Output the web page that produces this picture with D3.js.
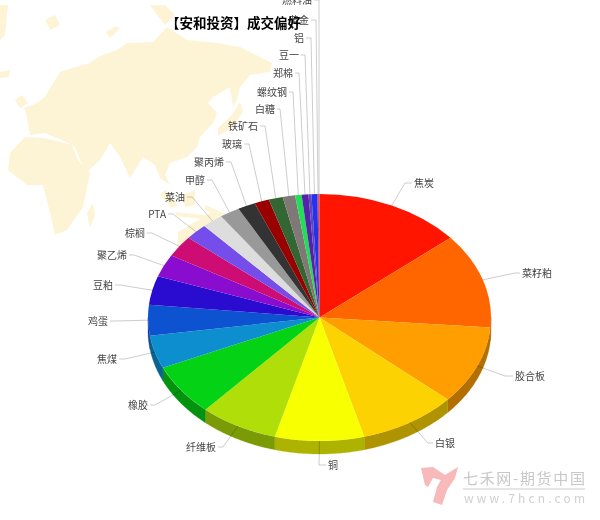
<!DOCTYPE html>
<html><head><meta charset="utf-8">
<script src="https://cdn.jsdelivr.net/npm/d3@7/dist/d3.min.js"></script>
<style>html,body{margin:0;padding:0;background:#fff}svg{display:block;filter:blur(0.3px)}
text{font-family:"Noto Sans CJK SC","Noto Sans",sans-serif}</style>
</head><body><div id="c"></div>
<script>
const titleText = "【安和投资】成交偏好";
const categories = ["焦炭","菜籽粕","胶合板","白银","铜","纤维板","橡胶","焦煤","鸡蛋","豆粕","聚乙烯","棕榈","PTA","菜油","甲醇","聚丙烯","玻璃","铁矿石","白糖","螺纹钢","郑棉","豆一","铝","黄金","燃料油"];
const shares = [49.8,44.8,36.9,33.3,30.2,26.6,24.2,15.6,14.4,13.6,10.6,10,7.6,7.2,6.8,6,5,4.8,4.2,2.2,2.3,1,2,0.4,0.3];
const colors = ["#ff1500","#ff6600","#ff9e01","#fcd202","#f8ff01","#b0de09","#04d215","#0d8ecf","#0d52d1","#2a0cd0","#8a0ccf","#cd0d74","#754deb","#dddddd","#999999","#333333","#990000","#336633","#807777","#22dd55","#5522aa","#6644bb","#2233ee","#aa2288","#dd3333"];
// label layout: anchor x, y, side (1 = text to the right of the connector), elbow distance
const labelX = [414,522,515,435,328,216,148,117,108,113,127,145,166,185,205,224,242,258,275,287,293,299,304,309,312];
const labelY = [183,273,376,443,465,447,405,359,321,285,255,233,214,197,180,162,144,126,109,92,73,55,38,20,0];
const labelSide = [1,1,1,1,1,-1,-1,-1,-1,-1,-1,-1,-1,-1,-1,-1,-1,-1,-1,-1,-1,-1,-1,-1,-1];
const labelElbow = [9,7,10,7,9,7,7,8,7,7,7,7,7,7,7,7,7,7,5,6,6,6,7,7,7];
// background map decoration (outline points)
const landOutlines = [
 [[27,117],[24,108],[35,104],[45,97],[52,85],[60,72],[72,68],[90,63],[100,56],[117,50],[127,43],[153,42],[167,27],[187,40],[217,43],[240,47],[272,63],[270,72],[250,75],[240,87],[237,100],[233,107],[230,87],[213,97],[208,103],[217,113],[213,123],[200,137],[197,147],[187,157],[170,163],[165,175],[170,185],[160,178],[155,165],[143,157],[130,178],[120,157],[110,143],[105,152],[100,160],[87,172],[80,160],[75,147],[62,140],[45,133],[30,135]],
 [[45,138],[25,137],[10,153],[8,170],[27,185],[43,185],[50,213],[55,235],[67,230],[83,207],[90,173],[78,160],[72,145]],
 [[165,190],[178,205],[172,208],[160,195]],
 [[182,195],[195,190],[195,205],[185,207]],
 [[175,212],[205,215],[204,219],[176,216]],
 [[205,205],[228,215],[222,218],[205,210]],
 [[178,232],[195,222],[212,212],[222,220],[235,240],[200,262],[178,250]],
 [[87,213],[93,203],[95,215],[90,228]],
 [[232,115],[240,102],[243,112],[232,128],[218,136],[218,128]],
 [[106,32],[116,26],[120,28],[110,38]],
 [[150,5],[165,5],[175,15],[165,25],[157,15]],
 [[15,100],[22,95],[28,103],[20,108]],
 [[0,72],[10,70],[9,77],[0,78]],
 [[45,20],[55,15],[60,25],[50,30]],
 [[0,5],[8,5],[5,35],[0,40]],
 [[62,110],[70,108],[72,118],[64,120]]
];
const logoOutline = [[421,468],[433,467],[445,475],[458,467],[455,478],[447,490],[442,505],[433,502],[437,487],[441,480],[433,478],[428,487],[425,485]];

const W = 600, H = 520, cx = 319.5, cy = 317.5, rx = 171.5, ry = 123.5, depth = 13;
const svg = d3.select("#c").append("svg").attr("width", W).attr("height", H);

const outline = d3.line().curve(d3.curveLinearClosed);
svg.append("g").selectAll("path").data(landOutlines).join("path")
  .attr("d", outline).attr("fill", "#fdf3d5");

svg.append("path").attr("d", d3.line().curve(d3.curveLinearClosed)(logoOutline)).attr("fill", "#f7b9b9");
svg.append("text").attr("x", 463).attr("y", 484).attr("font-size", 15).attr("textLength", 122).attr("fill", "#c8c8c8").text("七禾网-期货中国");
svg.append("line").attr("x1", 463).attr("x2", 585).attr("y1", 489).attr("y2", 489).attr("stroke", "#ccc");
svg.append("text").attr("x", 464).attr("y", 503).attr("font-size", 12).attr("textLength", 121).attr("fill", "#d0d0d0").text("www.7hcn.com");

const pieData = d3.pie().sort(null).value(d => d)(shares);
const sx = d3.scaleLinear().domain([-1, 1]).range([cx - rx, cx + rx]);
const sy = d3.scaleLinear().domain([-1, 1]).range([cy - ry, cy + ry]);
const px = a => sx(Math.sin(a)), py = a => sy(-Math.cos(a));

// side wall
const wall = d3.area().x(a => px(a)).y0(a => py(a)).y1(a => py(a) + depth);
svg.append("g").selectAll("path")
  .data(pieData.filter(d => d.endAngle > Math.PI / 2 && d.startAngle < 3 * Math.PI / 2))
  .join("path")
  .attr("d", d => {
    const a0 = Math.max(d.startAngle, Math.PI / 2), a1 = Math.min(d.endAngle, 3 * Math.PI / 2);
    return wall(d3.range(0, 41).map(i => a0 + (a1 - a0) * i / 40));
  })
  .attr("fill", d => d3.color(colors[d.index]).darker(1.0))
  .attr("stroke", d => d3.color(colors[d.index]).darker(1.0)).attr("stroke-width", 0.3);

// top
const arc = d3.arc().innerRadius(0).outerRadius(rx);
svg.append("g").attr("transform", `translate(${cx},${cy}) scale(1,${ry / rx})`)
  .selectAll("path").data(pieData).join("path")
  .attr("d", arc).attr("fill", (d, i) => colors[i]);

// connectors
const conn = d3.line();
svg.append("g").selectAll("path").data(pieData).join("path")
  .attr("d", d => {
    const i = d.index, m = (d.startAngle + d.endAngle) / 2, s = labelSide[i];
    return conn([[px(m), py(m)], [labelX[i] - s * labelElbow[i], labelY[i]], [labelX[i] - s * 2, labelY[i]]]);
  })
  .attr("fill", "none").attr("stroke", "#000").attr("stroke-opacity", 0.2).attr("stroke-width", 1);

// labels
svg.append("g").selectAll("text").data(categories).join("text")
  .attr("x", (d, i) => labelX[i]).attr("y", (d, i) => labelY[i]).attr("dy", "0.35em")
  .attr("text-anchor", (d, i) => labelSide[i] > 0 ? "start" : "end")
  .attr("font-size", 10).attr("fill", "#444").text(d => d);

svg.append("text").attr("x", 233.5).attr("y", 28).attr("text-anchor", "middle")
  .attr("font-size", 13.5).attr("font-weight", 700).attr("fill", "#000").text(titleText);
</script></body></html>
